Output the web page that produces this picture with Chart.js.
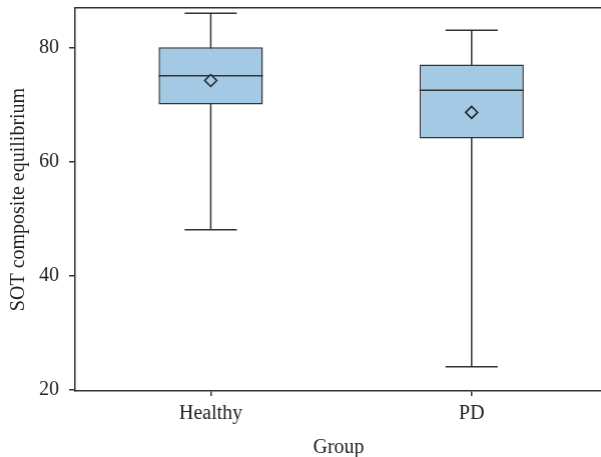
<!DOCTYPE html>
<html>
<head>
<meta charset="utf-8">
<script src="https://cdn.jsdelivr.net/npm/chart.js@4/dist/chart.umd.min.js"></script>
<style>
  html, body { margin: 0; padding: 0; background: #fff; overflow: hidden; }
  /* o quadro original é cortado à direita */
  #wrap { width: 608.5px; height: 457px; position: relative; }
  canvas { display: block; }
</style>
</head>
<body>
<div id="wrap"><canvas id="grafico"></canvas></div>
<script>
// valores
const groups = ['Healthy', 'PD'];
const whiskerLow = [48, 24];
const q1 = [70, 64];
const median = [75, 72.5];
const q3 = [80, 77];
const whiskerHigh = [86, 83];
const means = [74.2, 68.6];
const yTicks = [20, 40, 60, 80];

const lineColor = '#333';
const boxColor = '#a3c9e4';
const fontFamily = "'Liberation Serif', 'DejaVu Serif', serif";

// x de cada grupo: 1, 2, ...
const xs = groups.map((g, i) => i + 1);

function segmentos(lista) {
    // cada item: [x0, y0, x1, y1], separados por um ponto vazio
    const pts = [];
    lista.forEach(s => {
        pts.push({ x: s[0], y: s[1] });
        pts.push({ x: s[2], y: s[3] });
        pts.push({ x: s[2], y: null });
    });
    return pts;
}

const verticais = segmentos(xs.map((x, i) => [x, whiskerLow[i], x, whiskerHigh[i]]));
const caps = segmentos(xs.flatMap((x, i) => [
    [x - 0.1, whiskerLow[i], x + 0.1, whiskerLow[i]],
    [x - 0.1, whiskerHigh[i], x + 0.1, whiskerHigh[i]]
]));
const medianas = segmentos(xs.map((x, i) => [x - 0.2, median[i], x + 0.2, median[i]]));

const linha = (data, order) => ({
    type: 'line',
    data: data,
    borderColor: lineColor,
    borderWidth: 1.5,
    pointRadius: 0,
    spanGaps: false,
    fill: false,
    order: order
});

// sem folgas automáticas nas escalas
function semFolga(s) {
    s.paddingTop = 0;
    s.paddingBottom = 0;
    s.paddingLeft = 0;
    s.paddingRight = 0;
}

const ctx = document.getElementById('grafico').getContext('2d');

const grafico = new Chart(ctx, {
    type: 'bar',
    data: {
        datasets: [
            {
                type: 'bar',
                data: xs.map((x, i) => ({ x: x, y: [q1[i], q3[i]] })),
                backgroundColor: boxColor,
                borderColor: lineColor,
                borderWidth: 1.5,
                borderSkipped: false,
                categoryPercentage: 0.4,
                barPercentage: 1,
                grouped: false,
                order: 3
            },
            linha(verticais, 4),
            linha(caps, 2),
            linha(medianas, 1),
            {
                type: 'line',
                data: xs.map((x, i) => ({ x: x, y: means[i] })),
                showLine: false,
                pointStyle: 'rectRot',
                pointRadius: 6,
                pointBackgroundColor: boxColor,
                pointBorderColor: '#222',
                pointBorderWidth: 1.5,
                order: 0
            }
        ]
    },
    options: {
        responsive: true,
        maintainAspectRatio: false,
        animation: false,
        layout: { padding: { top: 8, left: 0, right: 0, bottom: 0 } },
        plugins: {
            legend: { display: false },
            tooltip: { enabled: false }
        },
        scales: {
            x: {
                type: 'linear',
                position: 'bottom',
                min: 0.48,
                max: 2.5,
                offset: false,
                afterBuildTicks: s => { s.ticks = xs.map(v => ({ value: v })); },
                afterFit: s => { s.height = 66; semFolga(s); },
                grid: { offset: false, drawOnChartArea: false, drawTicks: true, tickLength: 5, color: lineColor, lineWidth: 1.5 },
                border: { display: true, color: lineColor, width: 1.5 },
                ticks: {
                    padding: 6,
                    color: '#222',
                    font: { family: fontFamily, size: 20 },
                    callback: v => groups[v - 1]
                },
                title: {
                    display: true,
                    text: 'Group',
                    color: '#222',
                    font: { family: fontFamily, size: 20 },
                    padding: { top: 0, bottom: -3 }
                }
            },
            xTop: {
                type: 'linear',
                position: 'top',
                display: true,
                min: 0.48,
                max: 2.5,
                afterFit: s => { s.height = 0; semFolga(s); },
                grid: { drawOnChartArea: false, drawTicks: false },
                border: { display: true, color: lineColor, width: 1.5 },
                ticks: { display: false }
            },
            y: {
                type: 'linear',
                min: 19.75,
                max: 86.9,
                afterBuildTicks: s => { s.ticks = yTicks.map(v => ({ value: v })); },
                afterFit: s => { s.width = 75; semFolga(s); },
                grid: { drawOnChartArea: false, drawTicks: true, tickLength: 6, color: lineColor, lineWidth: 1.5 },
                border: { display: true, color: lineColor, width: 1.5 },
                ticks: {
                    padding: 10,
                    color: '#222',
                    font: { family: fontFamily, size: 20 }
                },
                title: {
                    display: true,
                    text: 'SOT composite equilibrium',
                    color: '#222',
                    font: { family: fontFamily, size: 20 },
                    padding: { top: 7, bottom: 0 }
                }
            }
        }
    }
});
</script>
</body>
</html>
